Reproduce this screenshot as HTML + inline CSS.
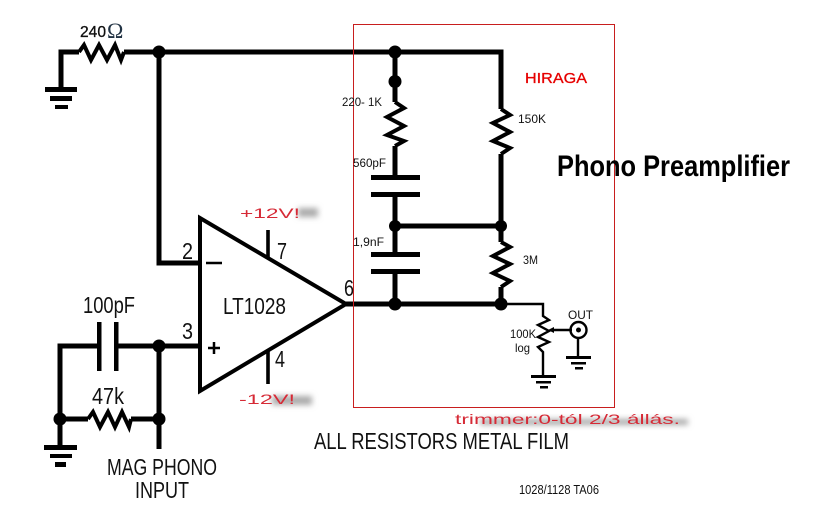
<!DOCTYPE html>
<html><head><meta charset="utf-8"><style>
html,body{margin:0;padding:0;background:#fff;width:840px;height:525px;overflow:hidden}
svg{display:block}
text{font-family:"Liberation Sans",sans-serif}
</style></head><body>
<svg width="840" height="525" viewBox="0 0 840 525" xmlns="http://www.w3.org/2000/svg">
<defs><filter id="b" x="-30%" y="-100%" width="160%" height="300%"><feGaussianBlur stdDeviation="3"/></filter></defs>
<rect width="840" height="525" fill="#fff"/>
<!-- blur smudges -->
<rect x="298" y="208" width="20" height="9" fill="#aaa" filter="url(#b)"/>
<rect x="272" y="396" width="40" height="9" fill="#aaa" filter="url(#b)"/>
<rect x="480" y="419" width="208" height="6" fill="#aaa" filter="url(#b)"/>
<!-- thick wires -->
<g fill="none" stroke="#000" stroke-width="5">
<path d="M61 89V52H79M124 52H501V109M501 154V242M501 287V304M159 52V263H199"/>
<path d="M79 52L84 45L91 60L99 45L107 60L115 45L121 60L124 52" stroke-width="4"/>
<path d="M395 52V102M395 146V177M395 194V254M395 271V304M395 226H501M346 304H501"/>
<path d="M395 102L404 108L387 117L404 126L387 135L404 141L395 146" stroke-width="4"/>
<path d="M501 109L510 115L493 123L510 132L493 141L510 148L501 154" stroke-width="4"/>
<path d="M501 242L510 247L493 256L510 264L493 273L510 281L501 287" stroke-width="4"/>
<path d="M60 447V346H99M116 346H199M159 346V449M60 419H88M131 419H159"/>
<path d="M88 419L93 412L100 427L108 412L115 427L122 412L129 427L131 419" stroke-width="4"/>
</g>
<!-- capacitors -->
<g fill="#000">
<rect x="97" y="322" width="4.500" height="49"/><rect x="114" y="322" width="4.500" height="49"/>
<rect x="371" y="175" width="49" height="5"/><rect x="371" y="192" width="49" height="5"/>
<rect x="371" y="252" width="49" height="5"/><rect x="371" y="269" width="49" height="5"/>
<!-- grounds -->
<rect x="45" y="87" width="32" height="5"/><rect x="50" y="96" width="22" height="5"/><rect x="55" y="105" width="13" height="4"/>
<rect x="44" y="445" width="33" height="5"/><rect x="50" y="454" width="22" height="4"/><rect x="55" y="462" width="11" height="5"/>
<rect x="531" y="375" width="25" height="3"/><rect x="536" y="381" width="15" height="2.500"/><rect x="540" y="386" width="8" height="2.500"/>
<rect x="566" y="356" width="25" height="3"/><rect x="571" y="362" width="15" height="2.500"/><rect x="575" y="367" width="8" height="2.500"/>
<!-- nodes -->
<circle cx="159" cy="52" r="6.500"/><circle cx="395" cy="52" r="6.500"/><circle cx="395" cy="81.500" r="6.500"/>
<circle cx="395" cy="226" r="6"/><circle cx="501" cy="226" r="6"/><circle cx="395" cy="304" r="6.500"/><circle cx="501" cy="304" r="6.500"/>
<circle cx="159" cy="346" r="6.500"/><circle cx="159" cy="419" r="6.500"/><circle cx="60" cy="419" r="6.500"/>
</g>
<!-- op amp -->
<path d="M200 218V391L346 304Z" fill="none" stroke="#000" stroke-width="4"/>
<path d="M268 230V258M268 350V384" stroke="#000" stroke-width="3.600" fill="none"/>
<path d="M206 263H222M208 348H220M214 342V354" stroke="#000" stroke-width="2.500"/>
<!-- pot -->
<g fill="none" stroke="#000" stroke-width="2.400">
<path d="M501 304H543V316L549 320L538 325L549 331L538 337L549 342L538 347L543 352V376"/>
<path d="M552 330H572M578 338V357"/>
<circle cx="578.500" cy="330" r="8"/>
</g>
<path d="M548 330L554 327V333Z" fill="#000"/><circle cx="578.500" cy="330" r="2.500" fill="#000"/>
<!-- red box -->
<rect x="353.500" y="24.500" width="261" height="383" fill="none" stroke="#c81e1e" stroke-width="1"/>
<!-- labels -->
<g fill="#111">
<text x="80" y="37" font-size="16" stroke="#000" stroke-width=".3" textLength="26" lengthAdjust="spacingAndGlyphs">240</text>
<text x="107" y="38" font-size="22" style="font-family:'Liberation Serif',serif" fill="#234">Ω</text>
<text x="182" y="259" font-size="23" textLength="11" lengthAdjust="spacingAndGlyphs">2</text>
<text x="182" y="339" font-size="23" textLength="11" lengthAdjust="spacingAndGlyphs">3</text>
<text x="277" y="259" font-size="23" textLength="10" lengthAdjust="spacingAndGlyphs">7</text>
<text x="275" y="367" font-size="23" textLength="10" lengthAdjust="spacingAndGlyphs">4</text>
<text x="344" y="296" font-size="23" textLength="10" lengthAdjust="spacingAndGlyphs">6</text>
<text x="223" y="314" font-size="23" textLength="63" lengthAdjust="spacingAndGlyphs">LT1028</text>
<text x="83" y="313" font-size="23" textLength="52" lengthAdjust="spacingAndGlyphs">100pF</text>
<text x="92" y="404" font-size="23" textLength="32" lengthAdjust="spacingAndGlyphs">47k</text>
<text x="107" y="475" font-size="23" textLength="110" lengthAdjust="spacingAndGlyphs">MAG PHONO</text>
<text x="135" y="498" font-size="23" textLength="54" lengthAdjust="spacingAndGlyphs">INPUT</text>
<text x="314" y="449" font-size="23" textLength="255" lengthAdjust="spacingAndGlyphs">ALL RESISTORS METAL FILM</text>
<text x="519" y="494" font-size="13" textLength="80" lengthAdjust="spacingAndGlyphs">1028/1128 TA06</text>
<text x="557" y="176" font-size="30" font-weight="bold" textLength="233" lengthAdjust="spacingAndGlyphs" fill="#000">Phono Preamplifier</text>
<text x="342" y="106" font-size="12" textLength="40" lengthAdjust="spacingAndGlyphs">220- 1K</text>
<text x="518" y="123" font-size="12" textLength="28" lengthAdjust="spacingAndGlyphs">150K</text>
<text x="353" y="167" font-size="12" textLength="33" lengthAdjust="spacingAndGlyphs">560pF</text>
<text x="353" y="246" font-size="12" textLength="31" lengthAdjust="spacingAndGlyphs">1,9nF</text>
<text x="523" y="264" font-size="12" textLength="15" lengthAdjust="spacingAndGlyphs">3M</text>
<text x="510" y="338" font-size="12" textLength="26" lengthAdjust="spacingAndGlyphs">100K</text>
<text x="515" y="352" font-size="12" textLength="15" lengthAdjust="spacingAndGlyphs">log</text>
<text x="568" y="319" font-size="12" textLength="25" lengthAdjust="spacingAndGlyphs">OUT</text>
</g>
<g fill="#d62a36">
<text x="525" y="83" font-size="15" fill="#e60000" stroke="#e60000" stroke-width=".3" textLength="62" lengthAdjust="spacingAndGlyphs">HIRAGA</text>
<text x="240" y="218" font-size="14" textLength="60" lengthAdjust="spacingAndGlyphs">+12V!</text>
<text x="239" y="404" font-size="14" textLength="56" lengthAdjust="spacingAndGlyphs">-12V!</text>
<text x="455" y="424" font-size="14" textLength="225" lengthAdjust="spacingAndGlyphs">trimmer:0-tól 2/3 állás.</text>
</g>
</svg>
</body></html>
